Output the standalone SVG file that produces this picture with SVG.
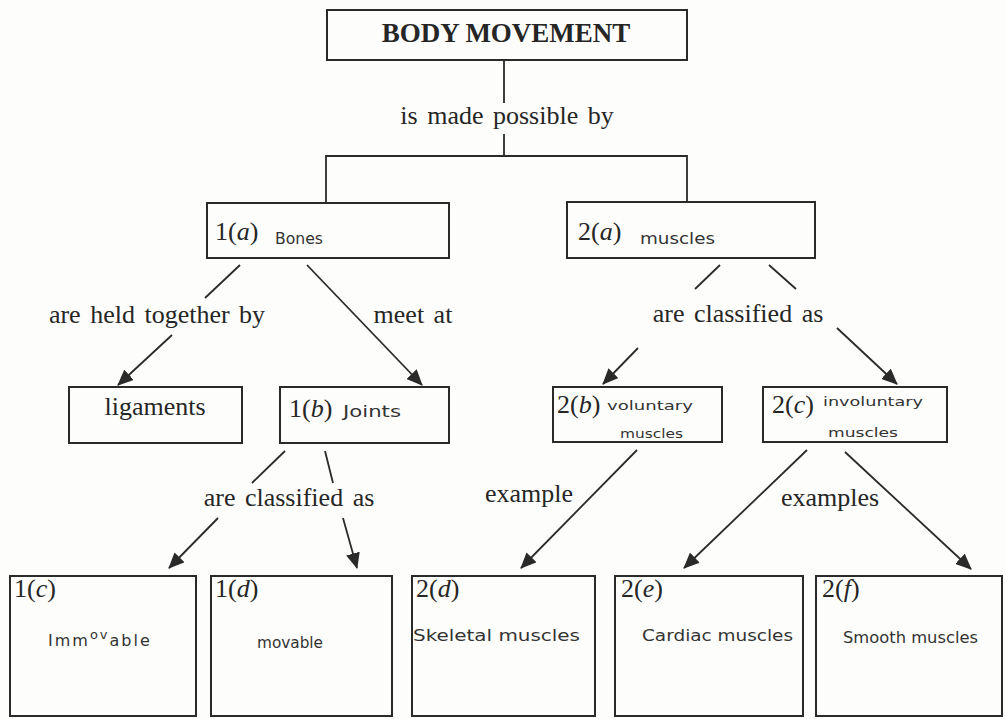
<svg xmlns="http://www.w3.org/2000/svg" width="1005" height="719" viewBox="0 0 1005 719">
<defs>
<style>
.bg{fill:#fdfdfb}
.box{fill:none;stroke:#2a2a2a;stroke-width:2}
.ln{fill:none;stroke:#2a2a2a;stroke-width:1.8}
.ar{fill:none;stroke:#2a2a2a;stroke-width:1.8;marker-end:url(#ah)}
.pt{font-family:"Liberation Serif","Times New Roman",serif;font-size:26px;fill:#262626;word-spacing:3px}
.ti{font-family:"Liberation Serif","Times New Roman",serif;font-size:27px;font-weight:bold;fill:#262626}
.hw{font-family:"DejaVu Sans","Noto Sans",sans-serif;font-size:16px;fill:#333}
.sm{font-size:13px}
</style>
<marker id="ah" viewBox="0 0 16 14" refX="15" refY="7" markerWidth="16" markerHeight="14" markerUnits="userSpaceOnUse" orient="auto">
<path d="M0,0 L16,7 L0,14 Z" fill="#2a2a2a"/>
</marker>
</defs>
<rect class="bg" x="0" y="0" width="1005" height="719"/>

<g id="connectors">
<line class="ln" x1="504" y1="60" x2="504" y2="103"/>
<line class="ln" x1="504" y1="134" x2="504" y2="156"/>
<polyline class="ln" points="326,203 326,156 687,156 687,203"/>
<line class="ln" x1="240" y1="265" x2="205" y2="298"/>
<line class="ar" x1="172" y1="335" x2="118" y2="385"/>
<line class="ar" x1="307" y1="265" x2="422" y2="385"/>
<line class="ln" x1="720" y1="265" x2="695" y2="289"/>
<line class="ln" x1="769" y1="265" x2="796" y2="289"/>
<line class="ar" x1="638" y1="348" x2="603" y2="384"/>
<line class="ar" x1="837" y1="328" x2="897" y2="384"/>
<line class="ln" x1="285" y1="451" x2="252" y2="483"/>
<line class="ln" x1="325" y1="451" x2="333" y2="483"/>
<line class="ar" x1="218" y1="518" x2="169" y2="568"/>
<line class="ar" x1="343" y1="518" x2="357" y2="568"/>
<line class="ar" x1="637" y1="450" x2="521" y2="568"/>
<line class="ar" x1="807" y1="450" x2="684" y2="568"/>
<line class="ar" x1="845" y1="452" x2="971" y2="569"/>
</g>

<g id="labels">
<text class="pt" x="507" y="124" text-anchor="middle">is made possible by</text>
<text class="pt" x="157" y="323" text-anchor="middle">are held together by</text>
<text class="pt" x="413" y="323" text-anchor="middle">meet at</text>
<text class="pt" x="738" y="322" text-anchor="middle">are classified as</text>
<text class="pt" x="289" y="506" text-anchor="middle">are classified as</text>
<text class="pt" x="573" y="502" text-anchor="end">example</text>
<text class="pt" x="830" y="506" text-anchor="middle">examples</text>
</g>

<g id="body-movement">
<rect class="box" x="327" y="10" width="360" height="50"/>
<text class="ti" x="506" y="42" text-anchor="middle">BODY MOVEMENT</text>
</g>

<g id="bones">
<rect class="box" x="207" y="203" width="242" height="55"/>
<text class="pt" x="215" y="240">1(<tspan font-style="italic">a</tspan>)</text>
<text class="hw" x="275" y="244" textLength="48" lengthAdjust="spacingAndGlyphs">Bones</text>
</g>

<g id="muscles">
<rect class="box" x="567" y="202" width="248" height="56"/>
<text class="pt" x="578" y="240">2(<tspan font-style="italic">a</tspan>)</text>
<text class="hw" x="640" y="244" textLength="75" lengthAdjust="spacingAndGlyphs">muscles</text>
</g>

<g id="ligaments">
<rect class="box" x="69" y="387" width="173" height="56"/>
<text class="pt" x="155" y="415" text-anchor="middle">ligaments</text>
</g>

<g id="joints">
<rect class="box" x="280" y="387" width="169" height="56"/>
<text class="pt" x="289" y="417">1(<tspan font-style="italic">b</tspan>)</text>
<text class="hw" x="343" y="417" textLength="58" lengthAdjust="spacingAndGlyphs">Joints</text>
</g>

<g id="voluntary">
<rect class="box" x="553" y="387" width="169" height="55"/>
<text class="pt" x="557" y="413">2(<tspan font-style="italic">b</tspan>)</text>
<text class="hw sm" x="607" y="410" textLength="86" lengthAdjust="spacingAndGlyphs">voluntary</text>
<text class="hw sm" x="620" y="438" textLength="63" lengthAdjust="spacingAndGlyphs">muscles</text>
</g>

<g id="involuntary">
<rect class="box" x="763" y="387" width="184" height="55"/>
<text class="pt" x="772" y="413">2(<tspan font-style="italic">c</tspan>)</text>
<text class="hw sm" x="823" y="406" textLength="100" lengthAdjust="spacingAndGlyphs">involuntary</text>
<text class="hw sm" x="828" y="437" textLength="70" lengthAdjust="spacingAndGlyphs">muscles</text>
</g>

<g id="immovable">
<rect class="box" x="10" y="576" width="186" height="140"/>
<text class="pt" x="14" y="597">1(<tspan font-style="italic">c</tspan>)</text>
<text class="hw" x="48" y="646" letter-spacing="2">Imm<tspan class="sm" dy="-7">ov</tspan><tspan dy="7">able</tspan></text>
</g>

<g id="movable">
<rect class="box" x="211" y="576" width="181" height="140"/>
<text class="pt" x="215" y="597">1(<tspan font-style="italic">d</tspan>)</text>
<text class="hw" x="257" y="648" textLength="66" lengthAdjust="spacingAndGlyphs">movable</text>
</g>

<g id="skeletal">
<rect class="box" x="412" y="576" width="183" height="140"/>
<text class="pt" x="416" y="597">2(<tspan font-style="italic">d</tspan>)</text>
<text class="hw" x="413" y="641" textLength="167" lengthAdjust="spacingAndGlyphs">Skeletal muscles</text>
</g>

<g id="cardiac">
<rect class="box" x="615" y="576" width="188" height="140"/>
<text class="pt" x="621" y="597">2(<tspan font-style="italic">e</tspan>)</text>
<text class="hw" x="642" y="641" textLength="151" lengthAdjust="spacingAndGlyphs">Cardiac muscles</text>
</g>

<g id="smooth">
<rect class="box" x="816" y="576" width="186" height="140"/>
<text class="pt" x="822" y="597">2(<tspan font-style="italic">f</tspan>)</text>
<text class="hw" x="843" y="643" textLength="135" lengthAdjust="spacingAndGlyphs">Smooth muscles</text>
</g>
</svg>
